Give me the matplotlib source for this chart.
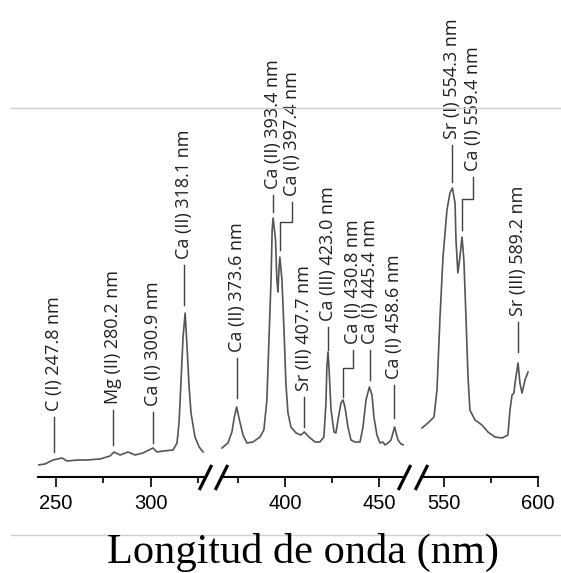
import matplotlib
matplotlib.use("Agg")
import matplotlib.pyplot as plt
from matplotlib.lines import Line2D

# spectrum, three pieces of the broken axis (wavelength nm, intensity a.u.)
seg1_nm = [240.5, 244.2, 248.4, 253.2, 255.8, 261.6, 266.4, 273.3, 278.6, 280.7,
           283.9, 288.1, 291.8, 296.0, 301.3, 303.4, 306.6, 311.9, 314.0, 315.1,
           316.1, 317.2, 318.3, 319.3, 320.4, 321.4, 323.5, 325.7, 327.8]
seg1_int = [12, 13, 17, 19, 16, 17, 17, 18, 21, 25,
            22, 25, 22, 24, 29, 25, 26, 27, 34, 55,
            95, 140, 164, 130, 90, 64, 40, 30, 25]

seg2_nm = [366.5, 369.7, 371.8, 373.0, 374.3, 375.8, 377.7, 379.8, 383.0, 386.7,
           388.8, 390.4, 391.5, 392.6, 393.2, 393.7, 395.0, 395.7, 396.3, 396.8,
           397.3, 398.4, 399.5, 400.5, 401.6, 403.2, 405.9, 408.5, 410.3, 412.8,
           416.0, 418.6, 420.7, 421.8, 422.3, 422.9, 423.4, 424.5, 426.1, 427.1,
           428.2, 429.8, 430.9, 431.9, 433.5, 435.1, 437.2, 439.9, 441.5, 443.1,
           444.9, 446.3, 447.3, 448.9, 450.5, 452.1, 453.2, 454.8, 456.4, 458.3,
           460.1, 461.7, 463.3]
seg2_int = [29, 34, 45, 59, 70, 57, 42, 34, 35, 40,
            47, 77, 137, 197, 247, 259, 237, 197, 185, 207,
            220, 197, 147, 94, 64, 50, 44, 42, 45, 40,
            35, 35, 40, 74, 110, 125, 110, 67, 45, 44,
            57, 74, 77, 70, 50, 37, 35, 35, 50, 77,
            90, 82, 60, 42, 34, 35, 32, 34, 37, 50,
            37, 33, 32]

seg3_nm = [538.3, 541.5, 544.7, 546.3, 547.9, 549.5, 551.6, 553.2, 554.5, 555.9,
           556.4, 557.4, 558.5, 559.6, 560.6, 561.7, 562.8, 563.8, 566.5, 570.2,
           573.4, 577.1, 580.9, 584.0, 585.1, 586.2, 587.2, 587.8, 589.4, 590.4,
           591.5, 593.1, 594.7]
seg3_int = [49, 54, 60, 87, 160, 220, 267, 284, 289, 274,
            237, 204, 220, 240, 217, 160, 100, 67, 57, 52,
            45, 40, 39, 42, 67, 82, 84, 94, 114, 94,
            84, 97, 105]

# peak labels
labels = ["C (I) 247.8 nm", "Mg (II) 280.2 nm", "Ca (I) 300.9 nm", "Ca (II) 318.1 nm",
          "Ca (II) 373.6 nm", "Ca (II) 393.4 nm", "Ca (I) 397.4 nm", "Sr (II) 407.7 nm",
          "Ca (III) 423.0 nm", "Ca (I) 430.8 nm", "Ca (I) 445.4 nm", "Ca (I) 458.6 nm",
          "Sr (I) 554.3 nm", "Ca (I) 559.4 nm", "Sr (III) 589.2 nm"]
label_seg = [0, 0, 0, 0, 1, 1, 1, 1, 1, 1, 1, 1, 2, 2, 2]
peak_x = [248.9, 280.2, 301.3, 317.7, 374.3, 393.6, 397.3, 410.1, 422.9, 430.9,
          445.2, 458.0, 554.3, 559.6, 589.4]
text_x = [248.9, 280.2, 301.3, 317.7, 374.3, 393.6, 403.7, 410.1, 422.9, 436.2,
          445.2, 458.0, 554.3, 565.4, 589.4]
line_lo = [25, 32, 34, 172, 79, 265, 227, 50, 127, 80, 97, 59, 295, 247, 125]
elbow_y = [None, None, None, None, None, None, 255, None, None, 109, None, None, None, 278, None]
line_hi = [60, 67, 65, 212, 119, 282, 275, 80, 150, 127, 127, 92, 332, 300, 155]

W, H = 561, 573
fig = plt.figure(figsize=(W / 100, H / 100), dpi=100)

# axes pieces in pixel columns, same nm/px scale on each
pieces = [(38, 205, 240.5, 328.8, [250, 300], [275, 325]),
          (221, 404, 366.0, 463.3, [400, 450], [375, 425]),
          (421, 538, 537.8, 600.0, [550, 600], [575])]
spectra = [(seg1_nm, seg1_int), (seg2_nm, seg2_int), (seg3_nm, seg3_int)]

axes = []
for (x0, x1, lo, hi, major, minor), (wl, inten) in zip(pieces, spectra):
    ax = fig.add_axes([x0 / W, (H - 477) / H, (x1 - x0) / W, 369 / H])
    ax.plot(wl, inten, color="#555555", lw=1.2)
    ax.set_xlim(lo, hi)
    ax.set_ylim(0, 369)
    for s in ["top", "left", "right"]:
        ax.spines[s].set_visible(False)
    ax.spines["bottom"].set_linewidth(1.5)
    ax.set_yticks([])
    ax.set_xticks(major)
    ax.set_xticks(minor, minor=True)
    ax.tick_params(axis="x", which="major", length=7, width=1.2, pad=5,
                   labelsize=14.5)
    ax.tick_params(axis="x", which="minor", length=4.5, width=1.2)
    for t in ax.get_xticklabels():
        t.set_fontfamily("Liberation Sans")
    ax.patch.set_visible(False)
    axes.append(ax)

# break marks
brk = dict(marker=[(-1, -2), (1, 2)], markersize=18, linestyle="none",
           color="k", mec="k", mew=2.3, clip_on=False)
axes[0].plot([1], [0], transform=axes[0].transAxes, **brk)
axes[1].plot([0, 1], [0, 0], transform=axes[1].transAxes, **brk)
axes[2].plot([0], [0], transform=axes[2].transAxes, **brk)

# peak labels with leader lines
for i, txt in enumerate(labels):
    ax = axes[label_seg[i]]
    if elbow_y[i] is None:
        xs = [peak_x[i], peak_x[i]]
        ys = [line_lo[i], line_hi[i]]
    else:
        xs = [peak_x[i], peak_x[i], text_x[i], text_x[i]]
        ys = [line_lo[i], elbow_y[i], elbow_y[i], line_hi[i]]
    ax.plot(xs, ys, color="#404040", lw=1.0, clip_on=False)
    ax.text(text_x[i], line_hi[i] + 6, txt, rotation=90, rotation_mode="anchor",
            ha="left", va="center", fontsize=13, family="Open Sans",
            color="#202020", clip_on=False)

# light separator lines
for yy in [108, 535]:
    fig.add_artist(Line2D([11 / W, 1], [1 - yy / H] * 2, transform=fig.transFigure,
                          color="#cfcfcf", lw=1.0))

fig.text(303 / W, 1 - 563 / H, "Longitud de onda (nm)", ha="center", va="baseline",
         fontsize=30.5, family="Liberation Serif", color="black")

fig.savefig("out.png", dpi=100)
